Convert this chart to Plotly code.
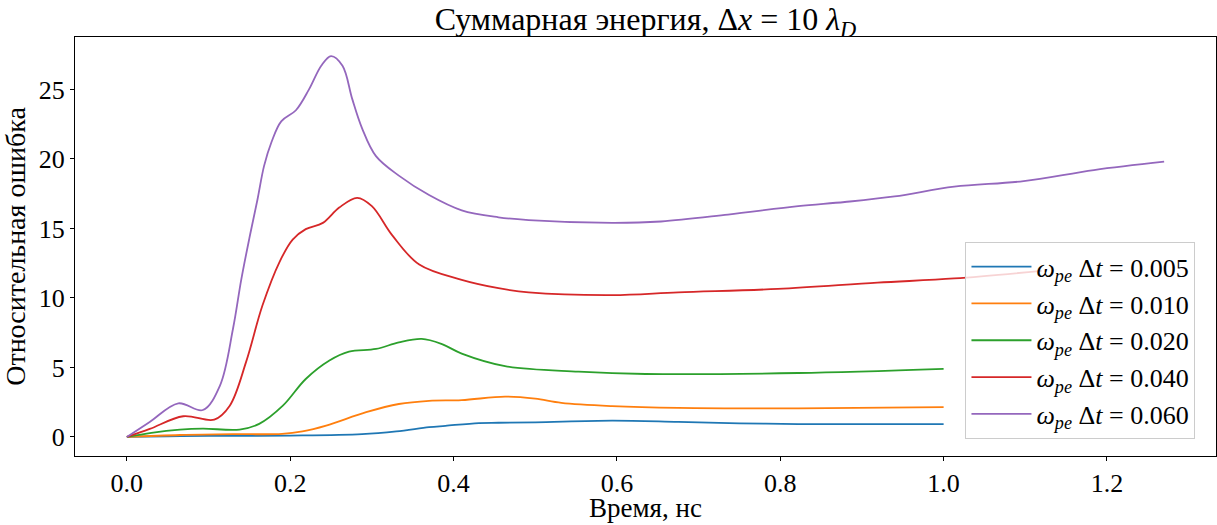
import plotly.graph_objects as go

# --- data ---
x_005 = [0, 0.05, 0.1, 0.2, 0.288, 0.33, 0.37, 0.39, 0.431, 0.455, 0.5, 0.594, 0.675, 0.75, 0.822, 0.9, 1.0]
y_005 = [0, 0.05, 0.08, 0.1, 0.2, 0.4, 0.7, 0.8, 1.0, 1.02, 1.05, 1.17, 1.08, 0.98, 0.93, 0.93, 0.93]

x_010 = [0, 0.065, 0.13, 0.19, 0.215, 0.244, 0.293, 0.333, 0.37, 0.41, 0.463, 0.5, 0.532, 0.594, 0.675, 0.822, 1.0]
y_010 = [0, 0.14, 0.2, 0.22, 0.4, 0.82, 1.78, 2.37, 2.6, 2.65, 2.9, 2.75, 2.45, 2.22, 2.09, 2.06, 2.15]

x_020 = [0, 0.03, 0.065, 0.093, 0.138, 0.162, 0.191, 0.219, 0.248, 0.272, 0.305, 0.333, 0.361,
         0.385, 0.41, 0.463, 0.553, 0.635, 0.822, 1.0]
y_020 = [0, 0.3, 0.53, 0.6, 0.53, 0.94, 2.25, 4.17, 5.5, 6.14, 6.33, 6.8, 7.05,
         6.7, 6.0, 5.1, 4.7, 4.53, 4.6, 4.9]

x_040 = [0, 0.028, 0.069, 0.107, 0.126, 0.146, 0.166, 0.187, 0.203, 0.219, 0.24, 0.26, 0.282, 0.3,
         0.325, 0.358, 0.41, 0.455, 0.492, 0.594, 0.675, 0.797, 0.919, 1.013, 1.12]
y_040 = [0, 0.58, 1.49, 1.25, 2.25, 5.4, 9.45, 12.6, 14.2, 14.95, 15.4, 16.5, 17.2, 16.6,
         14.5, 12.4, 11.3, 10.7, 10.4, 10.2, 10.4, 10.65, 11.1, 11.4, 11.95]

x_060 = [0, 0.028, 0.063, 0.093, 0.114, 0.13, 0.14, 0.15, 0.16, 0.168, 0.177, 0.189, 0.207, 0.223,
         0.238, 0.25, 0.264, 0.276, 0.288, 0.305, 0.333, 0.37, 0.41, 0.455, 0.492, 0.594, 0.654,
         0.736, 0.822, 0.879, 0.94, 1.013, 1.098, 1.184, 1.27]
y_060 = [0, 1.08, 2.42, 1.94, 3.7, 7.8, 11.3, 14.3, 17.1, 19.5, 21.2, 22.7, 23.5, 25.0,
         26.7, 27.4, 26.7, 24.3, 22.2, 20.2, 18.8, 17.4, 16.3, 15.8, 15.6, 15.4, 15.5,
         16.0, 16.6, 16.9, 17.3, 18.0, 18.4, 19.2, 19.8]

dt_labels = ["0.005", "0.010", "0.020", "0.040", "0.060"]
colors = ["#1f77b4", "#ff7f0e", "#2ca02c", "#d62728", "#9467bd"]
series = [(x_005, y_005), (x_010, y_010), (x_020, y_020), (x_040, y_040), (x_060, y_060)]

x_ticks = [0.0, 0.2, 0.4, 0.6, 0.8, 1.0, 1.2]
y_ticks = [0, 5, 10, 15, 20, 25]

FONT = "Liberation Serif"

fig = go.Figure()
for (xs, ys), lab, c in zip(series, dt_labels, colors):
    fig.add_trace(go.Scatter(
        x=xs, y=ys, mode="lines",
        line=dict(color=c, width=1.8, shape="spline", smoothing=1.0),
        name=f"<i>ω</i><sub><i>pe</i></sub> Δ<i>t</i> = {lab}",
    ))

axis_common = dict(
    showgrid=False, zeroline=False, showline=True, linecolor="black", linewidth=1.2,
    mirror=True, ticks="outside", ticklen=4, tickwidth=1.2, tickcolor="black",
    tickfont=dict(family=FONT, size=26, color="black"), automargin=False,
)

fig.update_layout(
    width=1217, height=525,
    margin=dict(l=75, r=1, t=37, b=69),
    paper_bgcolor="white", plot_bgcolor="white",
    font=dict(family=FONT, color="black"),
    title=dict(
        text="Суммарная энергия, Δ<i>x</i> = 10 <i>λ</i><sub><i>D</i></sub>",
        x=0.5, xref="paper", xanchor="center", y=0.985, yanchor="top",
        font=dict(family=FONT, size=32, color="black"),
    ),
    xaxis=dict(
        **axis_common, range=[-0.0635, 1.3335], tickvals=x_ticks,
        ticktext=[f"{v:.1f}" for v in x_ticks],
    ),
    yaxis=dict(
        **axis_common, range=[-1.37, 28.77], tickvals=y_ticks,
        title=dict(text="Относительная ошибка", font=dict(family=FONT, size=28), standoff=4),
    ),
    legend=dict(
        x=0.982, y=0.04, xanchor="right", yanchor="bottom",
        bgcolor="rgba(255,255,255,0.8)", bordercolor="#cccccc", borderwidth=1,
        font=dict(family=FONT, size=26, color="black"),
        itemwidth=60,
    ),
    annotations=[dict(
        text="Время, нс", xref="paper", yref="paper", x=0.5, y=-69 / 419,
        xanchor="center", yanchor="bottom", showarrow=False,
        font=dict(family=FONT, size=27, color="black"),
    )],
)

fig.write_html("out.html")
